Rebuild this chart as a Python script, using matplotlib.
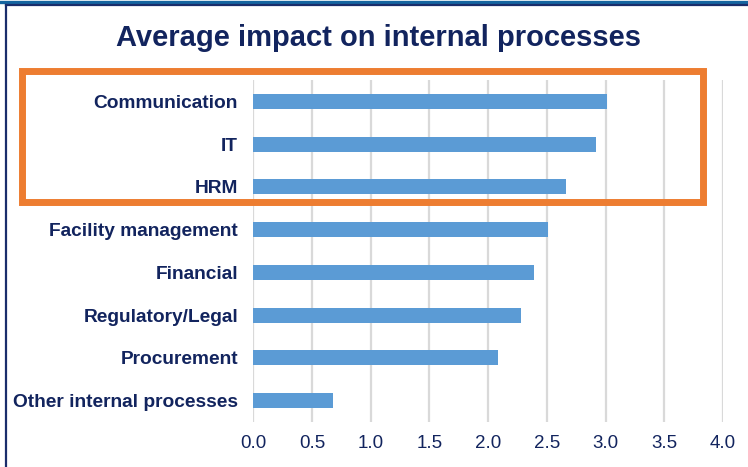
import matplotlib.pyplot as plt
from matplotlib.patches import Rectangle
from matplotlib.lines import Line2D

categories = ["Communication", "IT", "HRM", "Facility management", "Financial",
              "Regulatory/Legal", "Procurement", "Other internal processes"]
values = [3.01, 2.92, 2.66, 2.51, 2.39, 2.28, 2.08, 0.68]
ticks = [0.0, 0.5, 1.0, 1.5, 2.0, 2.5, 3.0, 3.5, 4.0]

navy = "#12245e"
bar_color = "#5b9bd5"

fig = plt.figure(figsize=(7.48, 4.67), dpi=100)
W, H = 748, 467

# axes box in pixels: x 253..723, y 80..422
ax = fig.add_axes([253.3 / W, 1 - 422 / H, (723 - 253.3) / W, (422 - 80) / H])

pos = list(range(len(categories)))
ax.barh(pos, values, height=0.35, color=bar_color, zorder=3)
ax.set_ylim(len(categories) - 0.5, -0.5)
ax.set_xlim(0, 4.0)
ax.set_xticks(ticks)
ax.set_xticklabels([f"{t:.1f}" for t in ticks], fontsize=13.5, color=navy,
                   family="Liberation Sans")
ax.set_yticks(pos)
ax.set_yticklabels(categories, fontsize=13.8, color=navy, fontweight="bold",
                   family="Liberation Sans")
ax.tick_params(axis="both", length=0)
ax.tick_params(axis="y", pad=11)
ax.tick_params(axis="x", pad=9)
ax.grid(axis="x", color="#d9d9d9", linewidth=1.6, zorder=0)
for s in ax.spines.values():
    s.set_visible(False)

fig.text(0.506, 1 - 38 / H, "Average impact on internal processes", ha="center",
         va="center", fontsize=21, fontweight="bold", color=navy,
         family="Liberation Sans")

# orange highlight box around top three
fig.patches.append(Rectangle((22 / W, 1 - 202 / H), (703 - 22) / W, (202 - 71.5) / H,
                             transform=fig.transFigure, fill=False,
                             edgecolor="#ed7d31", linewidth=5))

# frame lines
fig.lines.append(Line2D([0, 1], [1 - 1.5 / H, 1 - 1.5 / H], transform=fig.transFigure,
                        color="#1565a0", linewidth=2.4))
fig.lines.append(Line2D([6 / W, 1], [1 - 5 / H, 1 - 5 / H], transform=fig.transFigure,
                        color="#1a2d6b", linewidth=1.6))
fig.lines.append(Line2D([6 / W, 6 / W], [0, 1 - 5 / H], transform=fig.transFigure,
                        color="#1a2d6b", linewidth=1.6))

fig.savefig("out.png", dpi=100)
